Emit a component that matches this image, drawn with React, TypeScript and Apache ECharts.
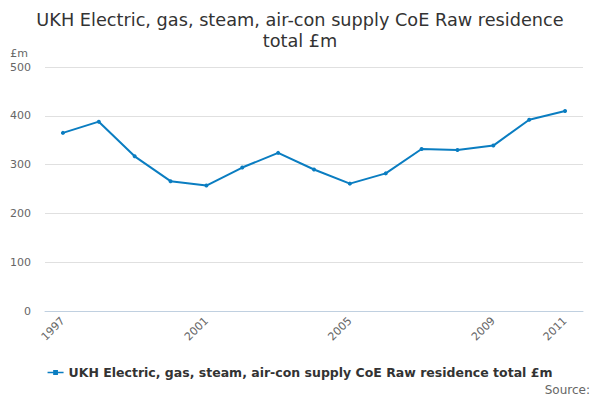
import React, { useEffect, useRef } from "react";
import * as echarts from "echarts";

const years = ["1997","1998","1999","2000","2001","2002","2003","2004","2005","2006","2007","2008","2009","2010","2011"];
const values = [365, 388, 317, 266, 257, 294, 324, 290, 261, 282, 332, 330, 339, 392, 410];
const seriesName = "UKH Electric, gas, steam, air-con supply CoE Raw residence total £m";
const titleText = "UKH Electric, gas, steam, air-con supply CoE Raw residence\ntotal £m";
const shownLabels = ["1997", "2001", "2005", "2009", "2011"];

const FONT = "DejaVu Sans, sans-serif";

export default function App() {
  const ref = useRef<HTMLDivElement>(null);
  useEffect(() => {
    const chart = echarts.init(ref.current!, null, { renderer: "svg" });
    chart.setOption({
      animation: false,
      textStyle: { fontFamily: FONT },
      title: {
        text: titleText,
        left: "center",
        top: 4,
        textStyle: { fontFamily: FONT, fontSize: 17.7, fontWeight: "normal", color: "#333", lineHeight: 21 },
      },
      grid: { left: 45, right: 17, top: 67, bottom: 89 },
      legend: {
        bottom: 16,
        left: "center",
        icon: "path://M0,4 L20,4 L20,6 L0,6 Z M7,2 L13,2 L13,8 L7,8 Z",
        itemWidth: 16,
        itemHeight: 6,
        itemGap: 5,
        textStyle: { fontFamily: FONT, fontSize: 12.5, fontWeight: "bold", color: "#333" },
        data: [seriesName],
      },
      graphic: [
        {
          type: "text",
          right: 10,
          bottom: 4,
          style: { text: "Source:", fontFamily: FONT, fontSize: 12, fill: "#666" },
        },
      ],
      xAxis: {
        type: "category",
        data: years,
        boundaryGap: true,
        axisLine: { lineStyle: { color: "#c0d0e0" } },
        axisTick: { alignWithLabel: true, length: 10, lineStyle: { color: "#c0d0e0" } },
        axisLabel: {
          rotate: 45,
          color: "#666",
          fontSize: 11,
          fontFamily: FONT,
          margin: 8,
          interval: (_i: number, v: string) => shownLabels.includes(v),
        },
      },
      yAxis: {
        type: "value",
        min: 0,
        max: 500,
        interval: 100,
        name: "£m",
        nameLocation: "end",
        nameGap: 8,
        nameTextStyle: { color: "#666", fontSize: 11, fontFamily: FONT, align: "right", padding: [0, 17, 0, 0] },
        axisLine: { show: false },
        axisTick: { show: false },
        axisLabel: { color: "#666", fontSize: 11, fontFamily: FONT, margin: 14 },
        splitLine: { lineStyle: { color: "#e0e0e0" } },
      },
      series: [
        {
          name: seriesName,
          type: "line",
          data: values,
          symbol: "circle",
          symbolSize: 4,
          itemStyle: { color: "#0a7dc1" },
          lineStyle: { color: "#0a7dc1", width: 2 },
        },
      ],
    });
    return () => chart.dispose();
  }, []);
  return <div ref={ref} style={{ width: 600, height: 400, position: "absolute", left: 0, top: 0 }} />;
}
